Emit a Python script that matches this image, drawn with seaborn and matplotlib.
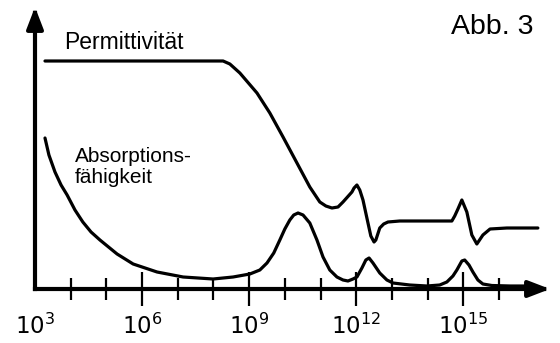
import numpy as np
import pandas as pd
import seaborn as sns
import matplotlib
matplotlib.use("Agg")
import matplotlib.pyplot as plt
from matplotlib.ticker import FixedLocator, FixedFormatter, NullFormatter

# ---- data (log10 frequency, relative value) ----
perm_logf = [3.28, 8.27, 8.46, 8.74, 9.22, 9.58, 9.95, 10.34, 10.70, 10.98, 11.15,
             11.32, 11.49, 11.63, 11.88, 11.94, 12.02, 12.10, 12.19, 12.33, 12.41,
             12.50, 12.55, 12.66, 12.77, 12.89, 13.22, 14.48, 14.68, 14.76, 14.85,
             14.96, 15.10, 15.24, 15.38, 15.55, 15.75, 16.22, 17.09]
perm_val = [228, 228, 225, 216, 196, 176, 152, 126, 102, 87, 83,
            81, 82, 87, 97, 101, 104, 99, 89, 66, 53,
            47, 49, 61, 65, 67, 68, 68, 68, 73, 80,
            89, 77, 54, 45, 54, 60, 61, 61]

abs_logf = [3.28, 3.39, 3.56, 3.73, 3.90, 4.12, 4.34, 4.57, 4.82, 5.30, 5.75, 6.42,
            7.15, 7.99, 8.55, 9.02, 9.30, 9.50, 9.69, 9.86, 10.00, 10.14, 10.25,
            10.37, 10.51, 10.70, 10.90, 11.07, 11.26, 11.46, 11.63, 11.77, 11.91,
            12.02, 12.16, 12.27, 12.36, 12.47, 12.66, 12.86, 13.03, 13.50, 13.98,
            14.34, 14.54, 14.71, 14.82, 14.96, 15.04, 15.16, 15.27, 15.41, 15.55,
            15.80, 16.31, 17.01]
abs_val = [151, 134, 117, 104, 94, 79, 67, 57, 49, 35, 25, 17,
           12, 10, 12, 15, 19, 26, 36, 49, 60, 69, 74,
           76, 74, 66, 49, 32, 19, 12, 9, 8, 10,
           12, 21, 29, 31, 26, 16, 9, 6, 4, 3,
           4, 7, 13, 19, 28, 29, 24, 17, 9, 5,
           3.5, 3, 3]

major_exp = [3, 6, 9, 12, 15]
minor_exp = [4, 5, 7, 8, 10, 11, 13, 14, 16]
tick_labels = ["$10^{3}$", "$10^{6}$", "$10^{9}$", "$10^{12}$", "$10^{15}$"]

label_perm = "Permittivität"
label_abs = ["Absorptions-", "fähigkeit"]
title = "Abb. 3"

# ---- figure ----
sns.set_style("white")
plt.rcParams['font.family'] = ['Liberation Sans', 'DejaVu Sans']
plt.rcParams['mathtext.fontset'] = 'dejavusans'
plt.rcParams['text.color'] = 'black'
plt.rcParams['xtick.labelcolor'] = 'black'

W, H = 560, 343
fig = plt.figure(figsize=(W / 100, H / 100), dpi=100)
ax = fig.add_axes([35 / W, 54 / H, 515 / W, 282 / H])
ax.set_xscale('log')

df_p = pd.DataFrame({"f": [10 ** v for v in perm_logf], "y": perm_val})
df_a = pd.DataFrame({"f": [10 ** v for v in abs_logf], "y": abs_val})
sns.lineplot(data=df_p, x="f", y="y", ax=ax, color="black", lw=2.3, estimator=None)
sns.lineplot(data=df_a, x="f", y="y", ax=ax, color="black", lw=2.3, estimator=None)

ax.set_xlim(1e3, 10 ** 17.43)
ax.set_ylim(0, 282)
ax.set_xlabel("")
ax.set_ylabel("")
ax.set_yticks([])

for s in ax.spines.values():
    s.set_visible(False)

# axes with arrow heads
arrow_kw = dict(arrowstyle="-|>,head_length=0.65,head_width=0.25",
                lw=3, color="black", shrinkA=0, shrinkB=0,
                mutation_scale=20, capstyle="projecting")
ax.annotate("", xy=(1.0, 0), xytext=(0, 0), xycoords="axes fraction",
            arrowprops=arrow_kw, annotation_clip=False)
ax.annotate("", xy=(0, 1.0), xytext=(0, 0), xycoords="axes fraction",
            arrowprops=arrow_kw, annotation_clip=False)

ax.xaxis.set_major_locator(FixedLocator([10.0 ** e for e in major_exp]))
ax.xaxis.set_major_formatter(FixedFormatter(tick_labels))
ax.xaxis.set_minor_locator(FixedLocator([10.0 ** e for e in minor_exp]))
ax.xaxis.set_minor_formatter(NullFormatter())
ax.tick_params(axis='x', which='major', direction='inout', length=25, width=1.6,
               color='black', labelcolor='black', labelsize=16.5, pad=5, bottom=True)
ax.tick_params(axis='x', which='minor', direction='inout', length=16.5, width=1.6,
               color='black', bottom=True)
for lab in ax.get_xticklabels():
    lab.set_family('DejaVu Sans')
ax.xaxis.get_major_ticks()[0].tick1line.set_visible(False)

fig.text(64 / W, 1 - 49 / H, label_perm, fontsize=16.5, ha='left', va='baseline', color='black')
fig.text(75 / W, 1 - 162 / H, label_abs[0], fontsize=15, ha='left', va='baseline', color='black')
fig.text(75 / W, 1 - 183 / H, label_abs[1], fontsize=15, ha='left', va='baseline', color='black')
fig.text(451 / W, 1 - 34 / H, title, fontsize=20.5, ha='left', va='baseline', color='black')

fig.savefig("out.png", dpi=100, facecolor="white")
